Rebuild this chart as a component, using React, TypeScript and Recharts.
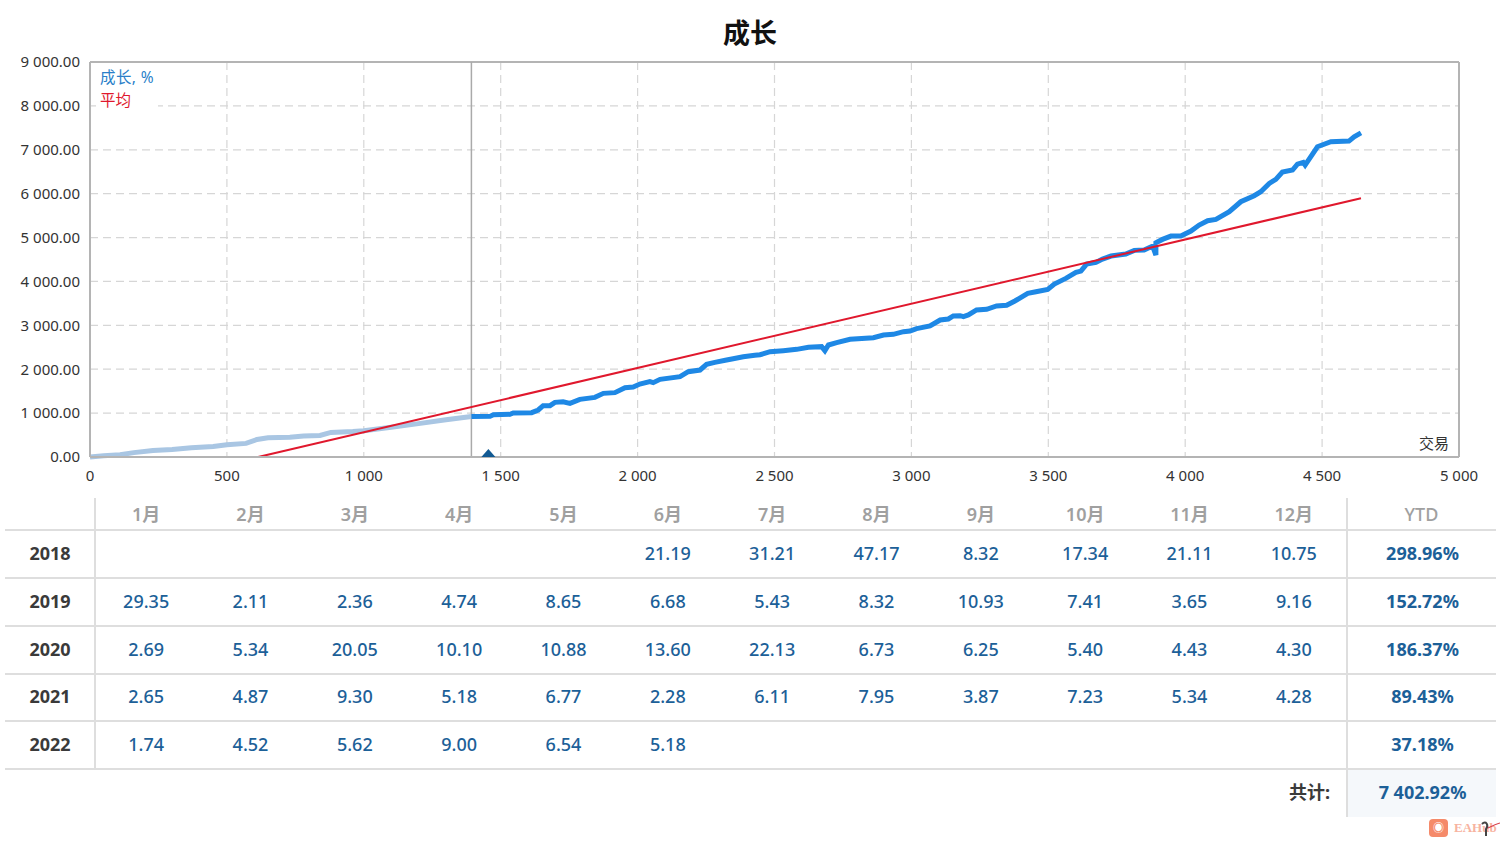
import { ComposedChart, CartesianGrid, Line, ReferenceDot, ReferenceLine, XAxis, YAxis } from "recharts";

const font = '"Noto Sans", "Noto Sans CJK SC", sans-serif';

const xTicks = [0, 500, 1000, 1500, 2000, 2500, 3000, 3500, 4000, 4500, 5000];
const yTicks = [0, 1000, 2000, 3000, 4000, 5000, 6000, 7000, 8000, 9000];

const historyTrades = [0, 50, 110, 160, 230, 300, 370, 450, 500, 570, 610, 650, 730, 780, 840, 880, 960, 1000, 1100, 1200, 1300, 1393];
const historyGrowth = [0, 30, 50, 100, 150, 170, 210, 240, 280, 310, 400, 440, 450, 480, 490, 560, 580, 600, 680, 760, 850, 925];

const growthTrades = [
  1393, 1461, 1473, 1534, 1546, 1613, 1637, 1655, 1680, 1698, 1728, 1753, 1789, 1844, 1875, 1917, 1954, 1984, 2008, 2045,
  2057, 2082, 2155, 2185, 2228, 2252, 2282, 2325, 2349, 2386, 2428, 2447, 2484, 2532, 2581, 2624, 2672, 2684, 2697, 2727,
  2776, 2861, 2898, 2934, 2971, 2995, 3019, 3068, 3105, 3135, 3153, 3178, 3190, 3208, 3238, 3275, 3311, 3348, 3378, 3425,
  3455, 3498, 3522, 3564, 3601, 3619, 3640, 3674, 3698, 3729, 3783, 3814, 3850, 3881, 3893, 3893, 3917, 3948, 3984, 4021,
  4051, 4082, 4112, 4161, 4203, 4252, 4276, 4307, 4331, 4355, 4392, 4410, 4431, 4438, 4483, 4532, 4598, 4617, 4642,
];
const growthValues = [
  925, 926, 964, 972, 1002, 1010, 1071, 1170, 1170, 1245, 1260, 1223, 1314, 1359, 1450, 1466, 1580, 1595, 1663, 1716,
  1694, 1769, 1830, 1944, 1982, 2111, 2157, 2210, 2240, 2285, 2320, 2330, 2400, 2423, 2453, 2499, 2514, 2423, 2552, 2605,
  2681, 2719, 2780, 2795, 2856, 2871, 2924, 2985, 3122, 3145, 3213, 3220, 3198, 3236, 3350, 3365, 3441, 3456, 3555, 3728,
  3766, 3819, 3941, 4070, 4206, 4237, 4396, 4434, 4510, 4579, 4624, 4708, 4715, 4806, 4600, 4882, 4958, 5034, 5034, 5148,
  5285, 5383, 5414, 5588, 5816, 5953, 6044, 6234, 6325, 6492, 6538, 6674, 6712, 6650, 7069, 7183, 7198, 7297, 7385,
];

const averageTrades = [614, 4642];
const averageValues = [0, 5895];

const months = ["1月", "2月", "3月", "4月", "5月", "6月", "7月", "8月", "9月", "10月", "11月", "12月"];
const years = ["2018", "2019", "2020", "2021", "2022"];
const monthly = [
  ["", "", "", "", "", "21.19", "31.21", "47.17", "8.32", "17.34", "21.11", "10.75"],
  ["29.35", "2.11", "2.36", "4.74", "8.65", "6.68", "5.43", "8.32", "10.93", "7.41", "3.65", "9.16"],
  ["2.69", "5.34", "20.05", "10.10", "10.88", "13.60", "22.13", "6.73", "6.25", "5.40", "4.43", "4.30"],
  ["2.65", "4.87", "9.30", "5.18", "6.77", "2.28", "6.11", "7.95", "3.87", "7.23", "5.34", "4.28"],
  ["1.74", "4.52", "5.62", "9.00", "6.54", "5.18", "", "", "", "", "", ""],
];
const ytd = ["298.96%", "152.72%", "186.37%", "89.43%", "37.18%"];
const total = "7 402.92%";

const historyData = historyTrades.map((x, i) => ({ x, y: historyGrowth[i] }));
const growthData = growthTrades.map((x, i) => ({ x, y: growthValues[i] }));
const averageData = averageTrades.map((x, i) => ({ x, y: averageValues[i] }));

const spaced = (v: number) => String(v).replace(/\B(?=(\d{3})+$)/g, " ");

const Triangle = (props: any) => {
  const { cx, cy } = props;
  return <path d={`M${cx - 7} ${cy} L${cx} ${cy - 8} L${cx + 7} ${cy} Z`} fill="#125a93" />;
};

const line = "#dedede";
const rowTops = [530, 578, 626, 674, 721, 769];

function GrowthTable() {
  const cell = (left: number, top: number, width: number, height: number, text: string, style: any = {}) => (
    <div
      key={`${left}-${top}`}
      style={{
        position: "absolute",
        left,
        top: top - 1,
        width,
        height,
        lineHeight: `${height}px`,
        textAlign: "center",
        fontFamily: font,
        fontSize: 18,
        fontWeight: 500,
        color: "#1c6098",
        whiteSpace: "nowrap",
        ...style,
      }}
    >
      {text}
    </div>
  );
  const colW = (1347 - 95) / 12;
  return (
    <>
      <div style={{ position: "absolute", left: 1347, top: 769, width: 149, height: 48, background: "#f5f8fb" }} />
      {rowTops.map((t) => (
        <div key={t} style={{ position: "absolute", left: 5, top: t - 1, width: 1491, height: 2, background: line }} />
      ))}
      <div style={{ position: "absolute", left: 94, top: 498, width: 2, height: 272, background: line }} />
      <div style={{ position: "absolute", left: 1346, top: 498, width: 2, height: 319, background: line }} />
      {months.map((m, i) => cell(94 + i * colW, 499, colW, 32, m, { color: "#a0a0a0", fontWeight: 600 }))}
      {cell(1347, 499, 149, 32, "YTD", { color: "#a0a0a0", fontWeight: 500 })}
      {years.map((y, r) => cell(5, rowTops[r], 90, rowTops[r + 1] - rowTops[r], y, { color: "#3a3a3a", fontWeight: 700 }))}
      {monthly.map((row, r) =>
        row.map((v, c) => cell(94 + c * colW, rowTops[r], colW, rowTops[r + 1] - rowTops[r], v)),
      )}
      {ytd.map((v, r) => cell(1348, rowTops[r], 149, rowTops[r + 1] - rowTops[r], v, { fontWeight: 700 }))}
      {cell(1180, 769, 150, 48, "共计:", { textAlign: "right", color: "#3a3a3a", fontWeight: 700 })}
      {cell(1348, 769, 149, 48, total, { fontWeight: 700 })}
    </>
  );
}

export default function App() {
  return (
    <div style={{ position: "absolute", left: 0, top: 0, width: 1500, height: 843, background: "#fff", overflow: "hidden" }}>
      <div
        style={{
          position: "absolute",
          left: 0,
          top: 13,
          width: 1500,
          textAlign: "center",
          fontFamily: font,
          fontSize: 27,
          lineHeight: "40px",
          fontWeight: 700,
          color: "#111",
        }}
      >
        成长
      </div>

      <ComposedChart
        width={1500}
        height={490}
        margin={{ top: 62, right: 41, left: 30, bottom: 3 }}
        style={{ position: "absolute", left: 0, top: 0 }}
      >
        <CartesianGrid stroke="#d6d6d6" strokeWidth={1.2} strokeDasharray="8 5" />
        <XAxis
          type="number"
          dataKey="x"
          domain={[0, 5000]}
          ticks={xTicks}
          tickFormatter={spaced}
          axisLine={{ stroke: "#b4b4b4", strokeWidth: 2 }}
          tickLine={false}
          tickSize={0}
          tickMargin={13}
          height={30}
          tick={{ fontSize: 15, fill: "#333", fontFamily: font }}
        />
        <YAxis
          type="number"
          dataKey="y"
          domain={[0, 9000]}
          ticks={yTicks}
          tickFormatter={(v) => `${spaced(v)}.00`}
          axisLine={{ stroke: "#b4b4b4", strokeWidth: 2 }}
          tickLine={false}
          tickSize={0}
          tickMargin={10}
          width={60}
          tick={{ fontSize: 15, fill: "#333", fontFamily: font }}
        />
        <ReferenceLine x={5000} stroke="#b4b4b4" strokeWidth={2} />
        <ReferenceLine y={9000} stroke="#b4b4b4" strokeWidth={2} />
        <ReferenceLine x={1393} stroke="#aaaaaa" strokeWidth={1.5} />
        <Line data={historyData} dataKey="y" stroke="#a9c6e3" strokeWidth={5} dot={false} isAnimationActive={false} />
        <Line data={growthData} dataKey="y" stroke="#1e88e5" strokeWidth={5} dot={false} isAnimationActive={false} />
        <Line data={averageData} dataKey="y" stroke="#e0182d" strokeWidth={2} dot={false} isAnimationActive={false} />
        <ReferenceDot x={1455} y={0} shape={<Triangle />} />
      </ComposedChart>

      <div
        style={{
          position: "absolute",
          left: 96,
          top: 66,
          padding: "0 4px",
          background: "#fff",
          fontFamily: font,
          fontSize: 15.5,
          lineHeight: "23px",
        }}
      >
        <div style={{ color: "#2a7fc9", letterSpacing: 0.4 }}>成长, %</div>
        <div style={{ color: "#e0182d" }}>平均</div>
      </div>
      <div style={{ position: "absolute", left: 1419, top: 432, fontFamily: font, fontSize: 15, color: "#333" }}>交易</div>

      <GrowthTable />

      <div style={{ position: "absolute", left: 1429, top: 819, width: 19, height: 18, borderRadius: 4, background: "#f58a6a", color: "#fff", fontSize: 11, lineHeight: "18px", textAlign: "center", fontFamily: font }}>
        ◉
      </div>
      <div style={{ position: "absolute", left: 1454, top: 820, fontFamily: '"Liberation Serif", serif', fontSize: 13, fontWeight: 700, color: "#f7b3a0" }}>EAHub</div>
      <svg style={{ position: "absolute", left: 1478, top: 818 }} width={22} height={24}>
        <path d="M4 6 C8 2 11 7 8 11 L8 18" fill="none" stroke="#444" strokeWidth={2} />
        <path d="M10 10 C14 8 18 6 22 5" fill="none" stroke="#d8404a" strokeWidth={1.2} />
      </svg>
    </div>
  );
}
